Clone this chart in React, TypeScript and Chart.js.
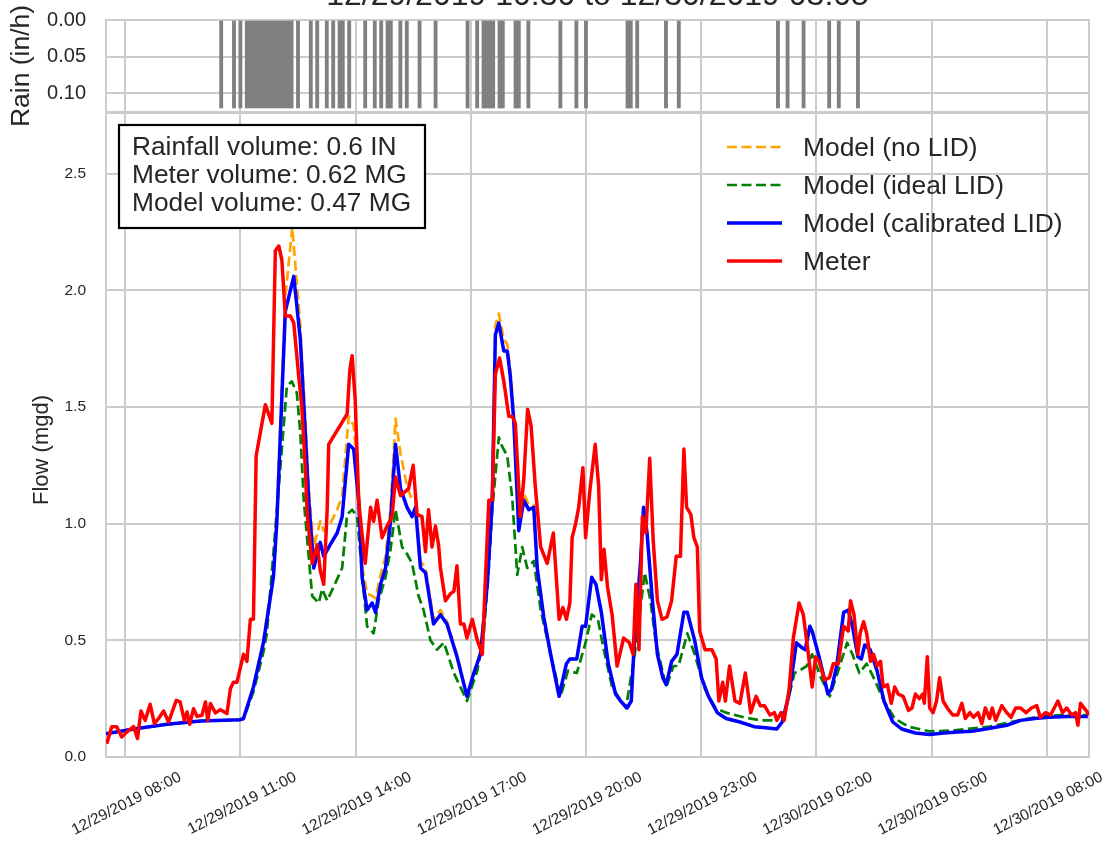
import React, { useEffect, useRef } from "react";
import { Chart, registerables } from "chart.js";
Chart.register(...registerables);

const FONT = "'Liberation Sans', Arial, sans-serif";
const TEXT = "#262626";
const GRID = "#cccccc";

const TITLE = "12/29/2019 10:30 to 12/30/2019 03:05";
const FLOW_TITLE = "Flow (mgd)";
const RAIN_TITLE = "Rain (in/h)";
const statsLines = ["Rainfall volume: 0.6 IN", "Meter volume: 0.62 MG", "Model volume: 0.47 MG"];
const legendLabels = ["Model (no LID)", "Model (ideal LID)", "Model (calibrated LID)", "Meter"];

const xTickHours = [8, 11, 14, 17, 20, 23, 26, 29, 32];
const flowTicks = [0, 0.5, 1, 1.5, 2, 2.5];
const rainTicks = [0, 0.05, 0.1];

// rain bars (5-minute intervals), times before 07:00 belong to 12/30
const rainTimes = [
  "10:30", "10:50", "11:00", "11:10", "11:15", "11:20", "11:25", "11:30", "11:35", "11:40",
  "11:45", "11:50", "11:55", "12:00", "12:05", "12:10", "12:15", "12:20", "12:30", "12:50",
  "13:00", "13:15", "13:25", "13:35", "13:40", "13:50", "14:15", "14:30", "14:40", "14:50",
  "14:55", "15:10", "15:20", "15:40", "16:05", "16:55", "17:10", "17:20", "17:25", "17:30",
  "17:35", "17:45", "17:50", "18:10", "18:15", "18:30", "19:20", "19:45", "20:00", "21:05",
  "21:10", "21:20", "22:05", "22:25", "01:00", "01:15", "01:40", "02:20", "02:35", "03:05",
];
const rainValues = [
  0.12, 0.12, 0.12, 0.12, 0.12, 0.12, 0.12, 0.12, 0.12, 0.12,
  0.12, 0.12, 0.12, 0.12, 0.12, 0.12, 0.12, 0.12, 0.12, 0.12,
  0.12, 0.12, 0.12, 0.12, 0.12, 0.12, 0.12, 0.12, 0.12, 0.12,
  0.12, 0.12, 0.12, 0.12, 0.12, 0.12, 0.12, 0.12, 0.12, 0.12,
  0.12, 0.12, 0.12, 0.12, 0.12, 0.12, 0.12, 0.12, 0.12, 0.12,
  0.12, 0.12, 0.12, 0.12, 0.12, 0.12, 0.12, 0.12, 0.12, 0.12,
];

// flow series: time in hours since 12/29/2019 00:00
const calibratedT = [7.5, 8.22, 9.09, 9.95, 11.0, 11.08, 11.34, 11.6, 11.86, 11.95, 12.17, 12.39, 12.56, 12.69, 12.78, 12.91, 13.08, 13.17, 13.34, 13.52, 13.65, 13.82, 13.95, 14.08, 14.17, 14.3, 14.43, 14.52, 14.65, 14.78, 14.91, 15.04, 15.17, 15.34, 15.47, 15.56, 15.69, 15.82, 16.03, 16.21, 16.38, 16.64, 16.9, 17.08, 17.25, 17.43, 17.56, 17.64, 17.73, 17.86, 17.95, 18.03, 18.12, 18.25, 18.38, 18.51, 18.64, 18.73, 18.9, 19.08, 19.3, 19.49, 19.58, 19.76, 19.9, 19.99, 20.15, 20.26, 20.4, 20.58, 20.77, 20.9, 21.07, 21.18, 21.27, 21.41, 21.5, 21.59, 21.73, 21.86, 22.0, 22.09, 22.23, 22.37, 22.46, 22.55, 22.64, 22.83, 23.01, 23.19, 23.42, 23.65, 24.01, 24.38, 24.74, 24.97, 25.11, 25.29, 25.48, 25.61, 25.71, 25.83, 25.89, 26.07, 26.3, 26.39, 26.53, 26.71, 26.83, 26.94, 27.08, 27.17, 27.26, 27.4, 27.58, 27.76, 27.99, 28.22, 28.58, 28.95, 29.32, 29.68, 30.05, 30.41, 30.96, 31.32, 31.69, 32.05, 32.52, 33.07];
const calibratedQ = [0.1, 0.12, 0.14, 0.154, 0.16, 0.165, 0.3, 0.49, 0.77, 1.01, 1.91, 2.06, 1.79, 1.39, 1.1, 0.81, 0.92, 0.86, 0.91, 0.96, 1.03, 1.34, 1.32, 1.1, 0.77, 0.63, 0.66, 0.62, 0.74, 0.81, 1.01, 1.34, 1.15, 1.07, 1.03, 1.07, 0.81, 0.79, 0.57, 0.61, 0.57, 0.43, 0.26, 0.36, 0.44, 0.74, 1.1, 1.81, 1.86, 1.74, 1.74, 1.63, 1.44, 0.97, 1.1, 1.06, 1.07, 0.81, 0.6, 0.44, 0.26, 0.4, 0.42, 0.42, 0.56, 0.56, 0.77, 0.74, 0.62, 0.4, 0.27, 0.24, 0.21, 0.24, 0.53, 0.81, 1.07, 0.96, 0.67, 0.44, 0.34, 0.31, 0.41, 0.44, 0.53, 0.62, 0.62, 0.5, 0.34, 0.26, 0.19, 0.165, 0.15, 0.13, 0.124, 0.12, 0.15, 0.27, 0.49, 0.47, 0.46, 0.56, 0.54, 0.43, 0.27, 0.29, 0.39, 0.62, 0.63, 0.56, 0.43, 0.42, 0.48, 0.46, 0.37, 0.24, 0.15, 0.12, 0.103, 0.096, 0.103, 0.107, 0.11, 0.12, 0.136, 0.157, 0.165, 0.17, 0.174, 0.174];

const noLidT = [7.5, 8.22, 9.09, 9.95, 11.0, 11.08, 11.34, 11.6, 11.86, 11.95, 12.17, 12.35, 12.56, 12.69, 12.78, 12.91, 13.08, 13.17, 13.34, 13.52, 13.65, 13.82, 13.95, 14.08, 14.17, 14.3, 14.43, 14.52, 14.65, 14.78, 14.91, 15.04, 15.17, 15.34, 15.47, 15.56, 15.69, 15.82, 16.03, 16.21, 16.38, 16.64, 16.9, 17.08, 17.25, 17.43, 17.56, 17.64, 17.73, 17.86, 17.95, 18.03, 18.12, 18.25, 18.38, 18.51, 18.64, 18.73, 18.9, 19.08, 19.3, 19.49, 19.58, 19.76, 19.9, 19.99, 20.15, 20.26, 20.4, 20.58, 20.77, 20.9, 21.07, 21.18, 21.27, 21.41, 21.5, 21.59, 21.73, 21.86, 22.0, 22.09, 22.23, 22.37, 22.46, 22.55, 22.64, 22.83, 23.01, 23.19, 23.42, 23.65, 24.01, 24.38, 24.74, 24.97, 25.11, 25.29, 25.48, 25.61, 25.71, 25.83, 25.89, 26.07, 26.3, 26.39, 26.53, 26.71, 26.83, 26.94, 27.08, 27.17, 27.26, 27.4, 27.58, 27.76, 27.99, 28.22, 28.58, 28.95, 29.32, 29.68, 30.05, 30.41, 30.96, 31.32, 31.69, 32.05, 32.52, 33.07];
const noLidQ = [0.1, 0.12, 0.14, 0.154, 0.16, 0.165, 0.3, 0.5, 0.8, 1.05, 1.97, 2.27, 1.85, 1.45, 1.15, 0.9, 1.01, 0.97, 1.0, 1.06, 1.12, 1.46, 1.42, 1.15, 0.82, 0.7, 0.69, 0.68, 0.78, 0.86, 1.06, 1.45, 1.3, 1.16, 1.1, 1.1, 0.84, 0.81, 0.59, 0.63, 0.58, 0.44, 0.26, 0.36, 0.45, 0.76, 1.12, 1.85, 1.9, 1.79, 1.77, 1.66, 1.47, 1.0, 1.13, 1.08, 1.08, 0.82, 0.6, 0.44, 0.26, 0.4, 0.42, 0.42, 0.56, 0.56, 0.77, 0.74, 0.62, 0.4, 0.27, 0.24, 0.21, 0.24, 0.53, 0.81, 1.07, 0.96, 0.67, 0.44, 0.34, 0.31, 0.41, 0.44, 0.53, 0.62, 0.62, 0.5, 0.34, 0.26, 0.19, 0.165, 0.15, 0.13, 0.124, 0.12, 0.15, 0.27, 0.49, 0.47, 0.46, 0.56, 0.54, 0.43, 0.27, 0.29, 0.39, 0.62, 0.63, 0.56, 0.43, 0.42, 0.48, 0.46, 0.37, 0.24, 0.15, 0.12, 0.103, 0.096, 0.103, 0.107, 0.11, 0.12, 0.136, 0.157, 0.165, 0.17, 0.174, 0.174];

const idealT = [7.5, 8.22, 9.09, 9.95, 11.0, 11.08, 11.34, 11.6, 11.69, 12.04, 12.21, 12.34, 12.47, 12.56, 12.65, 12.87, 13.04, 13.13, 13.26, 13.43, 13.65, 13.78, 13.91, 14.04, 14.21, 14.3, 14.47, 14.6, 14.78, 14.91, 15.04, 15.21, 15.34, 15.47, 15.64, 15.77, 15.95, 16.12, 16.3, 16.56, 16.9, 17.17, 17.34, 17.47, 17.56, 17.73, 17.82, 17.95, 18.08, 18.21, 18.34, 18.47, 18.64, 18.82, 19.08, 19.34, 19.53, 19.76, 19.99, 20.15, 20.31, 20.45, 20.68, 21.04, 21.27, 21.53, 21.68, 21.82, 22.09, 22.28, 22.41, 22.64, 22.83, 23.1, 23.37, 23.65, 24.11, 24.56, 24.93, 25.2, 25.43, 25.56, 25.75, 25.89, 26.12, 26.35, 26.57, 26.8, 26.94, 27.12, 27.31, 27.49, 27.76, 28.04, 28.4, 28.95, 29.59, 30.51, 30.96, 31.69, 32.34, 33.07];
const idealQ = [0.1, 0.12, 0.14, 0.154, 0.16, 0.163, 0.28, 0.45, 0.53, 1.24, 1.59, 1.61, 1.56, 1.39, 1.1, 0.69, 0.66, 0.72, 0.67, 0.73, 0.81, 1.04, 1.06, 1.03, 0.71, 0.56, 0.53, 0.67, 0.77, 0.89, 1.06, 0.9, 0.87, 0.83, 0.69, 0.63, 0.5, 0.46, 0.49, 0.36, 0.24, 0.37, 0.53, 0.81, 1.06, 1.37, 1.33, 1.29, 1.11, 0.78, 0.9, 0.81, 0.84, 0.63, 0.44, 0.26, 0.37, 0.36, 0.49, 0.61, 0.59, 0.47, 0.3, 0.21, 0.44, 0.79, 0.67, 0.49, 0.3, 0.39, 0.39, 0.53, 0.44, 0.29, 0.21, 0.19, 0.17, 0.157, 0.157, 0.2, 0.36, 0.37, 0.39, 0.44, 0.34, 0.26, 0.37, 0.49, 0.44, 0.36, 0.4, 0.34, 0.24, 0.165, 0.13, 0.11, 0.114, 0.13, 0.146, 0.17, 0.18, 0.18];

const meterT = [7.52, 7.65, 7.78, 7.91, 8.04, 8.22, 8.32, 8.41, 8.52, 8.65, 8.76, 8.87, 9.0, 9.13, 9.33, 9.43, 9.54, 9.61, 9.68, 9.78, 9.87, 10.0, 10.09, 10.15, 10.22, 10.35, 10.48, 10.65, 10.74, 10.82, 10.91, 11.08, 11.17, 11.26, 11.34, 11.41, 11.65, 11.82, 11.91, 12.0, 12.08, 12.17, 12.3, 12.39, 12.52, 12.6, 12.69, 12.74, 12.87, 13.0, 13.08, 13.17, 13.26, 13.3, 13.78, 13.85, 13.91, 13.99, 14.08, 14.12, 14.25, 14.39, 14.47, 14.56, 14.69, 14.82, 14.95, 15.04, 15.17, 15.38, 15.5, 15.6, 15.73, 15.82, 15.9, 15.99, 16.08, 16.16, 16.21, 16.34, 16.47, 16.56, 16.64, 16.73, 16.82, 16.9, 17.04, 17.17, 17.3, 17.38, 17.47, 17.56, 17.64, 17.75, 17.86, 17.99, 18.08, 18.16, 18.29, 18.38, 18.48, 18.57, 18.68, 18.82, 18.99, 19.15, 19.3, 19.4, 19.49, 19.58, 19.64, 19.73, 19.81, 19.92, 19.99, 20.1, 20.24, 20.33, 20.4, 20.47, 20.56, 20.68, 20.81, 20.98, 21.13, 21.23, 21.3, 21.38, 21.47, 21.56, 21.66, 21.75, 21.86, 21.98, 22.11, 22.23, 22.35, 22.46, 22.55, 22.62, 22.73, 22.81, 22.9, 22.96, 23.1, 23.28, 23.39, 23.46, 23.56, 23.63, 23.74, 23.88, 24.01, 24.15, 24.29, 24.43, 24.54, 24.65, 24.79, 24.91, 24.97, 25.08, 25.16, 25.29, 25.4, 25.55, 25.66, 25.77, 25.89, 25.98, 26.07, 26.21, 26.34, 26.44, 26.57, 26.71, 26.83, 26.89, 26.98, 27.08, 27.14, 27.23, 27.31, 27.41, 27.49, 27.58, 27.67, 27.74, 27.85, 27.95, 28.04, 28.13, 28.26, 28.4, 28.49, 28.58, 28.68, 28.77, 28.81, 28.89, 28.95, 29.04, 29.13, 29.21, 29.3, 29.41, 29.55, 29.68, 29.79, 29.88, 30.0, 30.09, 30.21, 30.31, 30.4, 30.51, 30.58, 30.67, 30.83, 30.96, 31.07, 31.19, 31.32, 31.46, 31.6, 31.74, 31.83, 31.97, 32.1, 32.29, 32.41, 32.52, 32.65, 32.75, 32.81, 32.88, 33.02, 33.1];
const meterQ = [0.057, 0.13, 0.13, 0.086, 0.107, 0.13, 0.079, 0.197, 0.157, 0.226, 0.143, 0.165, 0.197, 0.15, 0.243, 0.236, 0.157, 0.193, 0.14, 0.207, 0.174, 0.179, 0.236, 0.157, 0.229, 0.189, 0.203, 0.186, 0.293, 0.32, 0.32, 0.44, 0.41, 0.59, 0.59, 1.29, 1.51, 1.43, 2.17, 2.19, 2.13, 1.89, 1.89, 1.86, 1.63, 1.5, 1.24, 1.04, 0.83, 0.91, 0.8, 0.74, 1.06, 1.34, 1.47, 1.66, 1.72, 1.53, 1.1, 1.03, 0.83, 1.07, 1.01, 1.1, 0.94, 0.99, 1.03, 1.2, 1.12, 1.15, 1.25, 1.04, 1.03, 0.88, 1.06, 0.9, 0.99, 0.91, 0.81, 0.67, 0.7, 0.71, 0.82, 0.57, 0.57, 0.51, 0.59, 0.5, 0.44, 0.76, 1.1, 1.1, 1.64, 1.71, 1.61, 1.46, 1.46, 1.43, 1.03, 1.19, 1.49, 1.42, 1.16, 0.9, 0.83, 0.96, 0.59, 0.64, 0.59, 0.66, 0.94, 1.0, 1.07, 1.24, 0.94, 1.14, 1.34, 1.16, 0.76, 0.89, 0.73, 0.61, 0.39, 0.51, 0.49, 0.44, 0.74, 0.46, 1.03, 0.96, 1.28, 0.93, 0.67, 0.59, 0.6, 0.67, 0.86, 0.86, 1.32, 1.07, 1.04, 0.94, 0.9, 0.54, 0.46, 0.46, 0.42, 0.24, 0.32, 0.24, 0.39, 0.24, 0.23, 0.36, 0.19, 0.26, 0.22, 0.22, 0.18, 0.19, 0.157, 0.19, 0.157, 0.29, 0.51, 0.66, 0.61, 0.47, 0.3, 0.43, 0.41, 0.33, 0.34, 0.4, 0.4, 0.56, 0.54, 0.67, 0.61, 0.44, 0.53, 0.58, 0.53, 0.41, 0.44, 0.39, 0.41, 0.3, 0.31, 0.23, 0.3, 0.27, 0.26, 0.2, 0.21, 0.27, 0.25, 0.27, 0.23, 0.43, 0.21, 0.19, 0.24, 0.34, 0.24, 0.21, 0.18, 0.18, 0.23, 0.165, 0.19, 0.17, 0.19, 0.143, 0.21, 0.165, 0.21, 0.157, 0.22, 0.19, 0.17, 0.21, 0.21, 0.19, 0.21, 0.22, 0.17, 0.19, 0.18, 0.24, 0.19, 0.21, 0.18, 0.19, 0.136, 0.23, 0.2, 0.18];

const X_MIN = 7.5;
const X_MAX = 33.1;

function hhmmToHours(s: string): number {
  const [h, m] = s.split(":").map(Number);
  let v = h + m / 60;
  if (v < 7) v += 24;
  return v;
}

function pad2(n: number) {
  return n < 10 ? "0" + n : "" + n;
}

function xLabel(v: number): string {
  const day = v >= 24 ? 30 : 29;
  const h = Math.round(v) % 24;
  return `12/${day}/2019 ${pad2(h)}:00`;
}

function pts(t: number[], q: number[]) {
  return t.map((x, i) => ({ x, y: q[i] }));
}

const framePlugin = {
  id: "frame",
  beforeDatasetsDraw(chart: any) {
    const { ctx, chartArea } = chart;
    const { left, top, right, bottom } = chartArea;
    ctx.save();
    ctx.strokeStyle = GRID;
    ctx.lineWidth = 2;
    ctx.strokeRect(left, top, right - left, bottom - top);
    ctx.restore();
  },
};

const titlePlugin = {
  id: "topTitle",
  afterDraw(chart: any) {
    const { ctx, chartArea } = chart;
    ctx.save();
    ctx.font = `32px ${FONT}`;
    ctx.fillStyle = TEXT;
    ctx.textAlign = "center";
    ctx.textBaseline = "alphabetic";
    ctx.fillText(TITLE, (chartArea.left + chartArea.right) / 2, 5);
    ctx.restore();
  },
};

const legendStyles = [
  { color: "orange", width: 2.7, dash: [10, 4.5] },
  { color: "green", width: 2.7, dash: [10, 4.5] },
  { color: "blue", width: 3.5, dash: [] as number[] },
  { color: "red", width: 3.5, dash: [] as number[] },
];

const overlayPlugin = {
  id: "overlay",
  afterDatasetsDraw(chart: any) {
    const { ctx } = chart;
    ctx.save();
    // stats box
    ctx.fillStyle = "#ffffff";
    ctx.fillRect(119, 125, 306, 103);
    ctx.strokeStyle = "#000000";
    ctx.lineWidth = 2.2;
    ctx.strokeRect(119, 125, 306, 103);
    ctx.font = `26.3px ${FONT}`;
    ctx.fillStyle = TEXT;
    ctx.textAlign = "left";
    ctx.textBaseline = "alphabetic";
    statsLines.forEach((s, i) => ctx.fillText(s, 132, 155 + i * 28));
    // legend
    legendLabels.forEach((lab, i) => {
      const y = 147 + i * 38;
      const st = legendStyles[i];
      ctx.beginPath();
      ctx.setLineDash(st.dash);
      ctx.strokeStyle = st.color;
      ctx.lineWidth = st.width;
      ctx.moveTo(727, y);
      ctx.lineTo(782, y);
      ctx.stroke();
      ctx.setLineDash([]);
      ctx.fillStyle = TEXT;
      ctx.font = `26.4px ${FONT}`;
      ctx.fillText(lab, 803, y + 9);
    });
    // y-axis title
    ctx.translate(48, 450);
    ctx.rotate(-Math.PI / 2);
    ctx.font = `22px ${FONT}`;
    ctx.textAlign = "center";
    ctx.fillText(FLOW_TITLE, 0, 0);
    ctx.restore();
  },
};

function RainChart() {
  const ref = useRef<HTMLCanvasElement>(null);
  useEffect(() => {
    const chart = new Chart(ref.current!, {
      type: "bar",
      data: {
        datasets: [
          {
            label: "Rain",
            data: rainTimes.map((t, i) => ({ x: hhmmToHours(t), y: rainValues[i] })),
            backgroundColor: "#808080",
            borderWidth: 0,
            barThickness: 3.2,
          } as any,
        ],
      },
      options: {
        animation: false,
        responsive: false,
        layout: { padding: { left: 0, top: 20, right: 25, bottom: 738 } },
        plugins: { legend: { display: false }, tooltip: { enabled: false } },
        scales: {
          x: {
            type: "linear",
            offset: false,
            min: X_MIN,
            max: X_MAX,
            afterBuildTicks: (s: any) => {
              s.ticks = xTickHours.map((v) => ({ value: v }));
            },
            afterFit: (s: any) => {
              s.height = 0;
              s.paddingLeft = 0;
              s.paddingRight = 0;
            },
            ticks: { display: false },
            grid: { color: GRID, lineWidth: 2, drawTicks: false, offset: false },
            border: { display: false },
          },
          y: {
            reverse: true,
            min: 0,
            max: 0.1255,
            afterBuildTicks: (s: any) => {
              s.ticks = rainTicks.map((v) => ({ value: v }));
            },
            afterFit: (s: any) => {
              s.width = 106;
              s.paddingTop = 0;
              s.paddingBottom = 0;
            },
            ticks: {
              callback: (v: any) => Number(v).toFixed(2),
              font: { size: 20, family: FONT },
              color: TEXT,
              padding: 20,
            },
            grid: { color: GRID, lineWidth: 2, drawTicks: false },
            border: { display: false },
            title: {
              display: true,
              text: RAIN_TITLE,
              font: { size: 26.5, family: FONT },
              color: TEXT,
              padding: { top: 5.6, bottom: 0 },
            },
          },
        },
      } as any,
      plugins: [framePlugin, titlePlugin],
    });
    return () => chart.destroy();
  }, []);
  return (
    <canvas ref={ref} width={1114} height={850} style={{ position: "absolute", left: 0, top: 0, width: 1114, height: 850 }} />
  );
}

function FlowChart() {
  const ref = useRef<HTMLCanvasElement>(null);
  useEffect(() => {
    const lineBase = { pointRadius: 0, tension: 0, borderJoinStyle: "round", fill: false };
    const chart = new Chart(ref.current!, {
      type: "line",
      data: {
        datasets: [
          { ...lineBase, label: "Model (no LID)", data: pts(noLidT, noLidQ), borderColor: "orange", borderWidth: 2.7, borderDash: [10, 4.5], order: 4 },
          { ...lineBase, label: "Model (ideal LID)", data: pts(idealT, idealQ), borderColor: "green", borderWidth: 2.7, borderDash: [10, 4.5], order: 3 },
          { ...lineBase, label: "Model (calibrated LID)", data: pts(calibratedT, calibratedQ), borderColor: "blue", borderWidth: 3.5, order: 2 },
          { ...lineBase, label: "Meter", data: pts(meterT, meterQ), borderColor: "red", borderWidth: 3.5, order: 1 },
        ] as any,
      },
      options: {
        animation: false,
        responsive: false,
        parsing: false,
        layout: { padding: { left: 0, top: 113, right: 25, bottom: 0 } },
        plugins: { legend: { display: false }, tooltip: { enabled: false } },
        scales: {
          x: {
            type: "linear",
            min: X_MIN,
            max: X_MAX,
            afterBuildTicks: (s: any) => {
              s.ticks = xTickHours.map((v) => ({ value: v }));
            },
            afterFit: (s: any) => {
              s.height = 93;
              s.paddingLeft = 0;
              s.paddingRight = 0;
            },
            ticks: {
              callback: (v: any) => xLabel(Number(v)),
              autoSkip: false,
              minRotation: 27,
              maxRotation: 27,
              labelOffset: 55,
              padding: 11,
              font: { size: 15.5, family: FONT },
              color: TEXT,
            },
            grid: { color: GRID, lineWidth: 2, drawTicks: false },
            border: { display: false },
          },
          y: {
            min: 0,
            max: 2.76,
            afterBuildTicks: (s: any) => {
              s.ticks = flowTicks.map((v) => ({ value: v }));
            },
            afterFit: (s: any) => {
              s.width = 106;
              s.paddingTop = 0;
              s.paddingBottom = 0;
            },
            ticks: {
              callback: (v: any) => Number(v).toFixed(1),
              font: { size: 15.5, family: FONT },
              color: TEXT,
              padding: 20,
            },
            grid: { color: GRID, lineWidth: 2, drawTicks: false },
            border: { display: false },
            title: { display: false },
          },
        },
      } as any,
      plugins: [framePlugin, overlayPlugin],
    });
    return () => chart.destroy();
  }, []);
  return (
    <canvas ref={ref} width={1114} height={850} style={{ position: "absolute", left: 0, top: 0, width: 1114, height: 850 }} />
  );
}

export default function App() {
  return (
    <div style={{ position: "absolute", left: 0, top: 0, width: 1114, height: 850, background: "#ffffff", overflow: "hidden" }}>
      <RainChart />
      <FlowChart />
    </div>
  );
}
